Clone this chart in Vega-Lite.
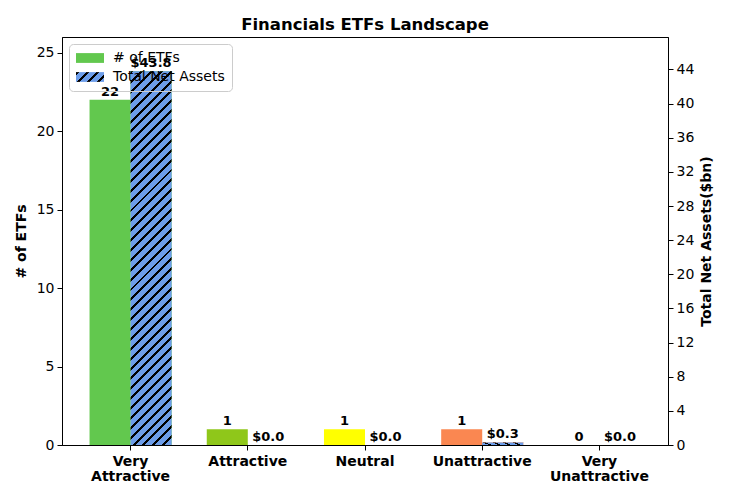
{
  "$schema": "https://vega.github.io/schema/vega-lite/v6.json",
  "width": 606,
  "height": 408,
  "autosize": {"type": "none"},
  "padding": {"left": 62, "top": 37, "right": 62, "bottom": 55},
  "background": "#ffffff",
  "title": {"text": "Financials ETFs Landscape", "font": "DejaVu Sans", "fontSize": 16.5, "fontWeight": "bold", "color": "#000000", "offset": 4},
  "data": {
    "values": [
      {"rating": "Very Attractive", "etfs": 22, "tna": 43.8},
      {"rating": "Attractive", "etfs": 1, "tna": 0.0},
      {"rating": "Neutral", "etfs": 1, "tna": 0.0},
      {"rating": "Unattractive", "etfs": 1, "tna": 0.3},
      {"rating": "Very Unattractive", "etfs": 0, "tna": 0.0}
    ]
  },
  "encoding": {
    "x": {
      "field": "rating",
      "type": "nominal",
      "sort": null,
      "scale": {"paddingInner": 0.3, "paddingOuter": 0.235},
      "axis": {
        "title": null,
        "labelAngle": 0,
        "labelFontWeight": "bold",
        "labelBaseline": "top",
        "labelLineHeight": 15,
        "labelPadding": 4,
        "labelExpr": "indexof(datum.label, 'Very ') === 0 ? ['Very', substring(datum.label, 5)] : datum.label"
      }
    }
  },
  "layer": [
    {
      "encoding": {
        "y": {"field": "etfs", "type": "quantitative", "scale": {"domain": [0, 26]}, "axis": {"title": "# of ETFs", "orient": "left", "values": [0, 5, 10, 15, 20, 25], "titlePadding": 8}},
        "xOffset": {"datum": "etfs", "scale": {"domain": ["etfs", "tna"]}}
      },
      "layer": [
        {
          "mark": {"type": "bar"},
          "encoding": {
            "color": {
              "field": "rating",
              "type": "nominal",
              "scale": {
                "domain": ["Very Attractive", "Attractive", "Neutral", "Unattractive", "Very Unattractive"],
                "range": ["#62c84e", "#8fc71a", "#ffff00", "#fa8751", "#e8392e"]
              },
              "legend": null
            }
          }
        },
        {
          "mark": {"type": "text", "font": "DejaVu Sans", "fontSize": 13, "fontWeight": "bold", "baseline": "alphabetic", "dy": -4, "color": "#000000"},
          "encoding": {"text": {"field": "etfs", "type": "quantitative"}}
        }
      ]
    },
    {
      "encoding": {
        "y": {"field": "tna", "type": "quantitative", "scale": {"domain": [0, 47.8]}, "axis": {"title": "Total Net Assets($bn)", "orient": "right", "values": [0, 4, 8, 12, 16, 20, 24, 28, 32, 36, 40, 44], "titleAngle": 270, "titleBaseline": "top", "titlePadding": 6}},
        "xOffset": {"datum": "tna", "scale": {"domain": ["etfs", "tna"]}}
      },
      "layer": [
        {
          "mark": {"type": "bar"},
          "encoding": {
            "color": {"field": "rating", "type": "nominal", "legend": null},
            "opacity": {
              "datum": "Total Net Assets",
              "type": "nominal",
              "scale": {"type": "ordinal", "domain": ["# of ETFs", "Total Net Assets"], "range": [1, 1]},
              "legend": {
                "title": null,
                "orient": "top-left",
                "offset": 7,
                "padding": 7,
                "symbolType": "M-1,-0.7H3V0.7H-1Z",
                "symbolSize": 196,
                "symbolStrokeWidth": 0,
                "symbolFillColor": {"expr": "datum.value === 'Total Net Assets' ? {gradient: 'linear', x1: 0, y1: 0, x2: 1.2027, y2: 0.4209, stops: [{offset: 0, color: '#000'}, {offset: 0.0794, color: '#000'}, {offset: 0.0794, color: '#6d9de9'}, {offset: 0.2646, color: '#6d9de9'}, {offset: 0.2646, color: '#000'}, {offset: 0.344, color: '#000'}, {offset: 0.344, color: '#6d9de9'}, {offset: 0.5292, color: '#6d9de9'}, {offset: 0.5292, color: '#000'}, {offset: 0.6086, color: '#000'}, {offset: 0.6086, color: '#6d9de9'}, {offset: 0.7938, color: '#6d9de9'}, {offset: 0.7938, color: '#000'}, {offset: 0.8732, color: '#000'}, {offset: 0.8732, color: '#6d9de9'}, {offset: 1, color: '#6d9de9'}]} : '#62c84e'"},
                "labelFont": "DejaVu Sans",
                "labelFontSize": 14,
                "labelColor": "#000000",
                "labelOffset": 23,
                "rowPadding": 5,
                "fillColor": "rgba(255,255,255,0)",
                "strokeColor": "#cccccc",
                "cornerRadius": 4
              }
            }
          }
        },
        {
          "mark": {
            "type": "bar",
            "fill": {
              "gradient": "linear", "x1": 0, "y1": 0, "x2": 0.1203, "y2": 1.0965,
              "stops": [
                {"offset": 0, "color": "#000"},
                {"offset": 0.00714, "color": "#000"}, {"offset": 0.00714, "color": "#6d9de9"}, {"offset": 0.02381, "color": "#6d9de9"}, {"offset": 0.02381, "color": "#000"},
                {"offset": 0.03095, "color": "#000"}, {"offset": 0.03095, "color": "#6d9de9"}, {"offset": 0.04762, "color": "#6d9de9"}, {"offset": 0.04762, "color": "#000"},
                {"offset": 0.05476, "color": "#000"}, {"offset": 0.05476, "color": "#6d9de9"}, {"offset": 0.07143, "color": "#6d9de9"}, {"offset": 0.07143, "color": "#000"},
                {"offset": 0.07857, "color": "#000"}, {"offset": 0.07857, "color": "#6d9de9"}, {"offset": 0.09524, "color": "#6d9de9"}, {"offset": 0.09524, "color": "#000"},
                {"offset": 0.10238, "color": "#000"}, {"offset": 0.10238, "color": "#6d9de9"}, {"offset": 0.11905, "color": "#6d9de9"}, {"offset": 0.11905, "color": "#000"},
                {"offset": 0.12619, "color": "#000"}, {"offset": 0.12619, "color": "#6d9de9"}, {"offset": 0.14286, "color": "#6d9de9"}, {"offset": 0.14286, "color": "#000"},
                {"offset": 0.15, "color": "#000"}, {"offset": 0.15, "color": "#6d9de9"}, {"offset": 0.16667, "color": "#6d9de9"}, {"offset": 0.16667, "color": "#000"},
                {"offset": 0.17381, "color": "#000"}, {"offset": 0.17381, "color": "#6d9de9"}, {"offset": 0.19048, "color": "#6d9de9"}, {"offset": 0.19048, "color": "#000"},
                {"offset": 0.19762, "color": "#000"}, {"offset": 0.19762, "color": "#6d9de9"}, {"offset": 0.21429, "color": "#6d9de9"}, {"offset": 0.21429, "color": "#000"},
                {"offset": 0.22143, "color": "#000"}, {"offset": 0.22143, "color": "#6d9de9"}, {"offset": 0.2381, "color": "#6d9de9"}, {"offset": 0.2381, "color": "#000"},
                {"offset": 0.24524, "color": "#000"}, {"offset": 0.24524, "color": "#6d9de9"}, {"offset": 0.2619, "color": "#6d9de9"}, {"offset": 0.2619, "color": "#000"},
                {"offset": 0.26905, "color": "#000"}, {"offset": 0.26905, "color": "#6d9de9"}, {"offset": 0.28571, "color": "#6d9de9"}, {"offset": 0.28571, "color": "#000"},
                {"offset": 0.29286, "color": "#000"}, {"offset": 0.29286, "color": "#6d9de9"}, {"offset": 0.30952, "color": "#6d9de9"}, {"offset": 0.30952, "color": "#000"},
                {"offset": 0.31667, "color": "#000"}, {"offset": 0.31667, "color": "#6d9de9"}, {"offset": 0.33333, "color": "#6d9de9"}, {"offset": 0.33333, "color": "#000"},
                {"offset": 0.34048, "color": "#000"}, {"offset": 0.34048, "color": "#6d9de9"}, {"offset": 0.35714, "color": "#6d9de9"}, {"offset": 0.35714, "color": "#000"},
                {"offset": 0.36429, "color": "#000"}, {"offset": 0.36429, "color": "#6d9de9"}, {"offset": 0.38095, "color": "#6d9de9"}, {"offset": 0.38095, "color": "#000"},
                {"offset": 0.3881, "color": "#000"}, {"offset": 0.3881, "color": "#6d9de9"}, {"offset": 0.40476, "color": "#6d9de9"}, {"offset": 0.40476, "color": "#000"},
                {"offset": 0.4119, "color": "#000"}, {"offset": 0.4119, "color": "#6d9de9"}, {"offset": 0.42857, "color": "#6d9de9"}, {"offset": 0.42857, "color": "#000"},
                {"offset": 0.43571, "color": "#000"}, {"offset": 0.43571, "color": "#6d9de9"}, {"offset": 0.45238, "color": "#6d9de9"}, {"offset": 0.45238, "color": "#000"},
                {"offset": 0.45952, "color": "#000"}, {"offset": 0.45952, "color": "#6d9de9"}, {"offset": 0.47619, "color": "#6d9de9"}, {"offset": 0.47619, "color": "#000"},
                {"offset": 0.48333, "color": "#000"}, {"offset": 0.48333, "color": "#6d9de9"}, {"offset": 0.5, "color": "#6d9de9"}, {"offset": 0.5, "color": "#000"},
                {"offset": 0.50714, "color": "#000"}, {"offset": 0.50714, "color": "#6d9de9"}, {"offset": 0.52381, "color": "#6d9de9"}, {"offset": 0.52381, "color": "#000"},
                {"offset": 0.53095, "color": "#000"}, {"offset": 0.53095, "color": "#6d9de9"}, {"offset": 0.54762, "color": "#6d9de9"}, {"offset": 0.54762, "color": "#000"},
                {"offset": 0.55476, "color": "#000"}, {"offset": 0.55476, "color": "#6d9de9"}, {"offset": 0.57143, "color": "#6d9de9"}, {"offset": 0.57143, "color": "#000"},
                {"offset": 0.57857, "color": "#000"}, {"offset": 0.57857, "color": "#6d9de9"}, {"offset": 0.59524, "color": "#6d9de9"}, {"offset": 0.59524, "color": "#000"},
                {"offset": 0.60238, "color": "#000"}, {"offset": 0.60238, "color": "#6d9de9"}, {"offset": 0.61905, "color": "#6d9de9"}, {"offset": 0.61905, "color": "#000"},
                {"offset": 0.62619, "color": "#000"}, {"offset": 0.62619, "color": "#6d9de9"}, {"offset": 0.64286, "color": "#6d9de9"}, {"offset": 0.64286, "color": "#000"},
                {"offset": 0.65, "color": "#000"}, {"offset": 0.65, "color": "#6d9de9"}, {"offset": 0.66667, "color": "#6d9de9"}, {"offset": 0.66667, "color": "#000"},
                {"offset": 0.67381, "color": "#000"}, {"offset": 0.67381, "color": "#6d9de9"}, {"offset": 0.69048, "color": "#6d9de9"}, {"offset": 0.69048, "color": "#000"},
                {"offset": 0.69762, "color": "#000"}, {"offset": 0.69762, "color": "#6d9de9"}, {"offset": 0.71429, "color": "#6d9de9"}, {"offset": 0.71429, "color": "#000"},
                {"offset": 0.72143, "color": "#000"}, {"offset": 0.72143, "color": "#6d9de9"}, {"offset": 0.7381, "color": "#6d9de9"}, {"offset": 0.7381, "color": "#000"},
                {"offset": 0.74524, "color": "#000"}, {"offset": 0.74524, "color": "#6d9de9"}, {"offset": 0.7619, "color": "#6d9de9"}, {"offset": 0.7619, "color": "#000"},
                {"offset": 0.76905, "color": "#000"}, {"offset": 0.76905, "color": "#6d9de9"}, {"offset": 0.78571, "color": "#6d9de9"}, {"offset": 0.78571, "color": "#000"},
                {"offset": 0.79286, "color": "#000"}, {"offset": 0.79286, "color": "#6d9de9"}, {"offset": 0.80952, "color": "#6d9de9"}, {"offset": 0.80952, "color": "#000"},
                {"offset": 0.81667, "color": "#000"}, {"offset": 0.81667, "color": "#6d9de9"}, {"offset": 0.83333, "color": "#6d9de9"}, {"offset": 0.83333, "color": "#000"},
                {"offset": 0.84048, "color": "#000"}, {"offset": 0.84048, "color": "#6d9de9"}, {"offset": 0.85714, "color": "#6d9de9"}, {"offset": 0.85714, "color": "#000"},
                {"offset": 0.86429, "color": "#000"}, {"offset": 0.86429, "color": "#6d9de9"}, {"offset": 0.88095, "color": "#6d9de9"}, {"offset": 0.88095, "color": "#000"},
                {"offset": 0.8881, "color": "#000"}, {"offset": 0.8881, "color": "#6d9de9"}, {"offset": 0.90476, "color": "#6d9de9"}, {"offset": 0.90476, "color": "#000"},
                {"offset": 0.9119, "color": "#000"}, {"offset": 0.9119, "color": "#6d9de9"}, {"offset": 0.92857, "color": "#6d9de9"}, {"offset": 0.92857, "color": "#000"},
                {"offset": 0.93571, "color": "#000"}, {"offset": 0.93571, "color": "#6d9de9"}, {"offset": 0.95238, "color": "#6d9de9"}, {"offset": 0.95238, "color": "#000"},
                {"offset": 0.95952, "color": "#000"}, {"offset": 0.95952, "color": "#6d9de9"}, {"offset": 0.97619, "color": "#6d9de9"}, {"offset": 0.97619, "color": "#000"},
                {"offset": 0.98333, "color": "#000"}, {"offset": 0.98333, "color": "#6d9de9"}, {"offset": 1, "color": "#6d9de9"}
              ]
            }
          }
        },
        {
          "mark": {"type": "text", "font": "DejaVu Sans", "fontSize": 13, "fontWeight": "bold", "baseline": "alphabetic", "dy": -4, "color": "#000000"},
          "encoding": {"text": {"field": "tna", "type": "quantitative", "format": "$.1f"}}
        }
      ]
    }
  ],
  "resolve": {"scale": {"y": "independent"}, "axis": {"y": "independent"}},
  "config": {
    "view": {"stroke": "#000000", "strokeWidth": 1},
    "axis": {
      "labelFont": "DejaVu Sans",
      "labelFontSize": 14,
      "labelColor": "#000000",
      "titleFont": "DejaVu Sans",
      "titleFontSize": 14,
      "titleFontWeight": "bold",
      "titleColor": "#000000",
      "domainColor": "#000000",
      "tickColor": "#000000",
      "tickSize": 5,
      "labelPadding": 3,
      "grid": false
    }
  }
}
